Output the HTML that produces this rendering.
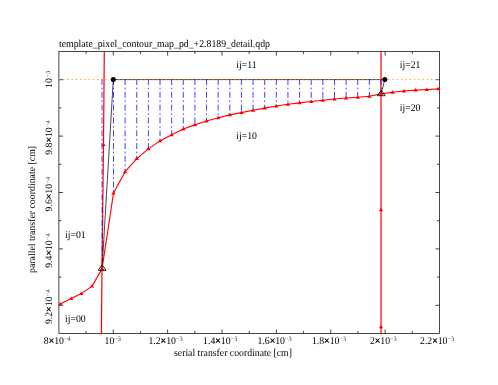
<!DOCTYPE html>
<html><head><meta charset="utf-8"><title>template_pixel_contour_map_pd_+2.8189_detail.qdp</title>
<style>html,body{margin:0;padding:0;background:#fff;overflow:hidden}svg{display:block;will-change:transform;opacity:0.999}text{font-family:"Liberation Serif",serif;font-size:9.77px;fill:#000;text-rendering:geometricPrecision}</style></head><body>
<svg width="498" height="385" viewBox="0 0 498 385">
<rect width="498" height="385" fill="#fff"/>
<g stroke="#000" stroke-width="0.72" fill="none">
<rect x="58.9" y="51.5" width="380.6" height="282.0"/>
<line x1="86.09" y1="333.5" x2="86.09" y2="331.0"/>
<line x1="86.09" y1="51.5" x2="86.09" y2="54.0"/>
<line x1="113.27" y1="333.5" x2="113.27" y2="329.4"/>
<line x1="113.27" y1="51.5" x2="113.27" y2="55.6"/>
<line x1="140.46" y1="333.5" x2="140.46" y2="331.0"/>
<line x1="140.46" y1="51.5" x2="140.46" y2="54.0"/>
<line x1="167.64" y1="333.5" x2="167.64" y2="329.4"/>
<line x1="167.64" y1="51.5" x2="167.64" y2="55.6"/>
<line x1="194.83" y1="333.5" x2="194.83" y2="331.0"/>
<line x1="194.83" y1="51.5" x2="194.83" y2="54.0"/>
<line x1="222.01" y1="333.5" x2="222.01" y2="329.4"/>
<line x1="222.01" y1="51.5" x2="222.01" y2="55.6"/>
<line x1="249.20" y1="333.5" x2="249.20" y2="331.0"/>
<line x1="249.20" y1="51.5" x2="249.20" y2="54.0"/>
<line x1="276.39" y1="333.5" x2="276.39" y2="329.4"/>
<line x1="276.39" y1="51.5" x2="276.39" y2="55.6"/>
<line x1="303.57" y1="333.5" x2="303.57" y2="331.0"/>
<line x1="303.57" y1="51.5" x2="303.57" y2="54.0"/>
<line x1="330.76" y1="333.5" x2="330.76" y2="329.4"/>
<line x1="330.76" y1="51.5" x2="330.76" y2="55.6"/>
<line x1="357.94" y1="333.5" x2="357.94" y2="331.0"/>
<line x1="357.94" y1="51.5" x2="357.94" y2="54.0"/>
<line x1="385.13" y1="333.5" x2="385.13" y2="329.4"/>
<line x1="385.13" y1="51.5" x2="385.13" y2="55.6"/>
<line x1="412.31" y1="333.5" x2="412.31" y2="331.0"/>
<line x1="412.31" y1="51.5" x2="412.31" y2="54.0"/>
<line x1="58.9" y1="305.30" x2="63.0" y2="305.30"/>
<line x1="439.5" y1="305.30" x2="435.4" y2="305.30"/>
<line x1="58.9" y1="277.10" x2="61.4" y2="277.10"/>
<line x1="439.5" y1="277.10" x2="437.0" y2="277.10"/>
<line x1="58.9" y1="248.90" x2="63.0" y2="248.90"/>
<line x1="439.5" y1="248.90" x2="435.4" y2="248.90"/>
<line x1="58.9" y1="220.70" x2="61.4" y2="220.70"/>
<line x1="439.5" y1="220.70" x2="437.0" y2="220.70"/>
<line x1="58.9" y1="192.50" x2="63.0" y2="192.50"/>
<line x1="439.5" y1="192.50" x2="435.4" y2="192.50"/>
<line x1="58.9" y1="164.30" x2="61.4" y2="164.30"/>
<line x1="439.5" y1="164.30" x2="437.0" y2="164.30"/>
<line x1="58.9" y1="136.10" x2="63.0" y2="136.10"/>
<line x1="439.5" y1="136.10" x2="435.4" y2="136.10"/>
<line x1="58.9" y1="107.90" x2="61.4" y2="107.90"/>
<line x1="439.5" y1="107.90" x2="437.0" y2="107.90"/>
<line x1="58.9" y1="79.70" x2="63.0" y2="79.70"/>
<line x1="439.5" y1="79.70" x2="435.4" y2="79.70"/>
</g>
<g stroke="#ff0000" stroke-width="1.2" fill="none" stroke-linejoin="round">
<polyline points="104.3,51 103.5,144.5 102.0,268.5 101.4,334"/>
<polyline points="381,51 381,334"/>
</g>
<g fill="#ff0000" stroke="none">
<path d="M103.50 142.45 L101.35 145.95 L105.65 145.95 Z"/>
<path d="M381.00 207.65 L378.85 211.15 L383.15 211.15 Z"/>
<path d="M381.00 324.85 L378.85 328.35 L383.15 328.35 Z"/>
</g>
<g stroke="#0000ff" stroke-width="0.75" fill="none" stroke-dasharray="4.9 3.65 0.6 3.65" stroke-linecap="square">
<line x1="102.0" y1="79.6" x2="102.1" y2="266"/>
<line x1="113.50" y1="79.6" x2="113.50" y2="193.0"/>
<line x1="125.13" y1="79.6" x2="125.13" y2="171.7"/>
<line x1="136.76" y1="79.6" x2="136.76" y2="158.6"/>
<line x1="148.39" y1="79.6" x2="148.39" y2="148.9"/>
<line x1="160.02" y1="79.6" x2="160.02" y2="140.9"/>
<line x1="171.65" y1="79.6" x2="171.65" y2="134.8"/>
<line x1="183.28" y1="79.6" x2="183.28" y2="129.0"/>
<line x1="194.91" y1="79.6" x2="194.91" y2="124.9"/>
<line x1="206.54" y1="79.6" x2="206.54" y2="121.0"/>
<line x1="218.17" y1="79.6" x2="218.17" y2="117.8"/>
<line x1="229.80" y1="79.6" x2="229.80" y2="114.9"/>
<line x1="241.43" y1="79.6" x2="241.43" y2="112.6"/>
<line x1="253.06" y1="79.6" x2="253.06" y2="110.2"/>
<line x1="264.69" y1="79.6" x2="264.69" y2="108.1"/>
<line x1="276.32" y1="79.6" x2="276.32" y2="106.0"/>
<line x1="287.95" y1="79.6" x2="287.95" y2="104.2"/>
<line x1="299.58" y1="79.6" x2="299.58" y2="102.9"/>
<line x1="311.21" y1="79.6" x2="311.21" y2="101.5"/>
<line x1="322.84" y1="79.6" x2="322.84" y2="100.2"/>
<line x1="334.47" y1="79.6" x2="334.47" y2="99.0"/>
<line x1="346.10" y1="79.6" x2="346.10" y2="98.0"/>
<line x1="357.73" y1="79.6" x2="357.73" y2="97.2"/>
<line x1="369.36" y1="79.6" x2="369.36" y2="96.2"/>
<line x1="380.99" y1="79.6" x2="380.99" y2="93.9"/>
</g>
<g stroke="#000" stroke-width="0.72" fill="none">
<polyline points="102.1,268.5 113.3,79.6 384.8,79.6 381.1,93.9"/>
</g>
<line x1="58.92" y1="79.6" x2="437.1" y2="79.6" stroke="#ff8000" stroke-width="0.75" stroke-dasharray="0.6 3.682" stroke-linecap="square"/>
<g stroke="#ff0000" stroke-width="1.15" fill="none" stroke-linejoin="round">
<polyline points="59.2,304.8 60.4,304.1 71.2,298.6 81.3,293.6 92.1,286.1 102.1,268.5 113.5,193.0 125.1,171.7 136.8,158.6 148.4,148.9 160.0,140.9 171.7,134.8 183.3,129.0 194.9,124.9 206.5,121.0 218.2,117.8 229.8,114.9 241.4,112.6 253.1,110.2 264.7,108.1 276.3,106.0 288.0,104.2 299.6,102.9 311.2,101.5 322.8,100.2 334.5,99.0 346.1,98.0 357.7,97.2 369.4,96.2 381.0,93.9 392.6,92.3 404.0,91.0 415.6,90.1 426.8,89.5 438.1,88.9 439.5,88.7"/>
</g>
<g fill="#ff0000" stroke="none">
<path d="M60.40 302.05 L58.25 305.55 L62.55 305.55 Z"/>
<path d="M71.20 296.55 L69.05 300.05 L73.35 300.05 Z"/>
<path d="M81.30 291.55 L79.15 295.05 L83.45 295.05 Z"/>
<path d="M92.10 284.05 L89.95 287.55 L94.25 287.55 Z"/>
<path d="M102.10 266.45 L99.95 269.95 L104.25 269.95 Z"/>
<path d="M113.50 190.95 L111.35 194.45 L115.65 194.45 Z"/>
<path d="M125.13 169.65 L122.98 173.15 L127.28 173.15 Z"/>
<path d="M136.76 156.55 L134.61 160.05 L138.91 160.05 Z"/>
<path d="M148.39 146.85 L146.24 150.35 L150.54 150.35 Z"/>
<path d="M160.02 138.85 L157.87 142.35 L162.17 142.35 Z"/>
<path d="M171.65 132.75 L169.50 136.25 L173.80 136.25 Z"/>
<path d="M183.28 126.95 L181.13 130.45 L185.43 130.45 Z"/>
<path d="M194.91 122.85 L192.76 126.35 L197.06 126.35 Z"/>
<path d="M206.54 118.95 L204.39 122.45 L208.69 122.45 Z"/>
<path d="M218.17 115.75 L216.02 119.25 L220.32 119.25 Z"/>
<path d="M229.80 112.85 L227.65 116.35 L231.95 116.35 Z"/>
<path d="M241.43 110.55 L239.28 114.05 L243.58 114.05 Z"/>
<path d="M253.06 108.15 L250.91 111.65 L255.21 111.65 Z"/>
<path d="M264.69 106.05 L262.54 109.55 L266.84 109.55 Z"/>
<path d="M276.32 103.95 L274.17 107.45 L278.47 107.45 Z"/>
<path d="M287.95 102.15 L285.80 105.65 L290.10 105.65 Z"/>
<path d="M299.58 100.85 L297.43 104.35 L301.73 104.35 Z"/>
<path d="M311.21 99.45 L309.06 102.95 L313.36 102.95 Z"/>
<path d="M322.84 98.15 L320.69 101.65 L324.99 101.65 Z"/>
<path d="M334.47 96.95 L332.32 100.45 L336.62 100.45 Z"/>
<path d="M346.10 95.95 L343.95 99.45 L348.25 99.45 Z"/>
<path d="M357.73 95.15 L355.58 98.65 L359.88 98.65 Z"/>
<path d="M369.36 94.15 L367.21 97.65 L371.51 97.65 Z"/>
<path d="M380.99 91.85 L378.84 95.35 L383.14 95.35 Z"/>
<path d="M392.60 90.25 L390.45 93.75 L394.75 93.75 Z"/>
<path d="M404.00 88.95 L401.85 92.45 L406.15 92.45 Z"/>
<path d="M415.60 88.05 L413.45 91.55 L417.75 91.55 Z"/>
<path d="M426.80 87.45 L424.65 90.95 L428.95 90.95 Z"/>
<path d="M438.10 86.85 L435.95 90.35 L440.25 90.35 Z"/>
</g>
<path d="M102.10 264.70 L98.20 270.40 L106.00 270.40 Z" fill="none" stroke="#000" stroke-width="0.85"/>
<path d="M381.20 90.00 L377.30 95.70 L385.10 95.70 Z" fill="none" stroke="#000" stroke-width="0.85"/>
<circle cx="113.3" cy="79.4" r="2.5" fill="#000"/><circle cx="384.8" cy="79.4" r="2.5" fill="#000"/>
<text transform="translate(59.0,46.9) scale(1,1.06)" style="font-size:9.82px">template_pixel_contour_map_pd_+2.8189_detail.qdp</text>
<text transform="translate(174,356) scale(1,1.06)">serial transfer coordinate [cm]</text>
<text style="font-size:9.85px" transform="translate(35.2,273.0) rotate(-90)">parallel transfer coordinate [cm]</text>
<text transform="translate(43.8,344.3) scale(1,1.06)">8<tspan stroke="#000" stroke-width="0.35">×</tspan>10<tspan font-size="6.3px" fill="#444" dx="0.0" dy="-2.9">−4</tspan></text>
<text transform="translate(104.5,344.3) scale(1,1.06)">10<tspan font-size="6.3px" fill="#444" dx="0.0" dy="-2.9">−3</tspan></text>
<text transform="translate(148.4,344.3) scale(1,1.06)">1.2<tspan stroke="#000" stroke-width="0.35">×</tspan>10<tspan font-size="6.3px" fill="#444" dx="0.0" dy="-2.9">−3</tspan></text>
<text transform="translate(203.1,344.3) scale(1,1.06)">1.4<tspan stroke="#000" stroke-width="0.35">×</tspan>10<tspan font-size="6.3px" fill="#444" dx="0.0" dy="-2.9">−3</tspan></text>
<text transform="translate(257.5,344.3) scale(1,1.06)">1.6<tspan stroke="#000" stroke-width="0.35">×</tspan>10<tspan font-size="6.3px" fill="#444" dx="0.0" dy="-2.9">−3</tspan></text>
<text transform="translate(311.9,344.3) scale(1,1.06)">1.8<tspan stroke="#000" stroke-width="0.35">×</tspan>10<tspan font-size="6.3px" fill="#444" dx="0.0" dy="-2.9">−3</tspan></text>
<text transform="translate(369.9,344.3) scale(1,1.06)">2<tspan stroke="#000" stroke-width="0.35">×</tspan>10<tspan font-size="6.3px" fill="#444" dx="0.0" dy="-2.9">−3</tspan></text>
<text transform="translate(420.0,344.3) scale(1,1.06)">2.2<tspan stroke="#000" stroke-width="0.35">×</tspan>10<tspan font-size="6.3px" fill="#444" dx="0.0" dy="-2.9">−3</tspan></text>
<text transform="translate(52.4,324.1) rotate(-90)">9.2<tspan stroke="#000" stroke-width="0.35">×</tspan>10<tspan font-size="6.3px" fill="#444" dx="0.3" dy="-2.9">−4</tspan></text>
<text transform="translate(52.4,267.8) rotate(-90)">9.4<tspan stroke="#000" stroke-width="0.35">×</tspan>10<tspan font-size="6.3px" fill="#444" dx="0.3" dy="-2.9">−4</tspan></text>
<text transform="translate(52.4,211.4) rotate(-90)">9.6<tspan stroke="#000" stroke-width="0.35">×</tspan>10<tspan font-size="6.3px" fill="#444" dx="0.3" dy="-2.9">−4</tspan></text>
<text transform="translate(52.4,154.8) rotate(-90)">9.8<tspan stroke="#000" stroke-width="0.35">×</tspan>10<tspan font-size="6.3px" fill="#444" dx="0.3" dy="-2.9">−4</tspan></text>
<text transform="translate(52.4,87.9) rotate(-90)">10<tspan font-size="6.3px" fill="#444" dx="0.6" dy="-2.9">−3</tspan></text>
<text transform="translate(236.2,67.9) scale(1,1.06)">ij=11</text>
<text transform="translate(236.3,138.9) scale(1,1.06)">ij=10</text>
<text transform="translate(399.7,68.2) scale(1,1.06)">ij=21</text>
<text transform="translate(399.7,110.5) scale(1,1.06)">ij=20</text>
<text transform="translate(65.0,237.5) scale(1,1.06)">ij=01</text>
<text transform="translate(65.0,322.0) scale(1,1.06)">ij=00</text>
</svg></body></html>
